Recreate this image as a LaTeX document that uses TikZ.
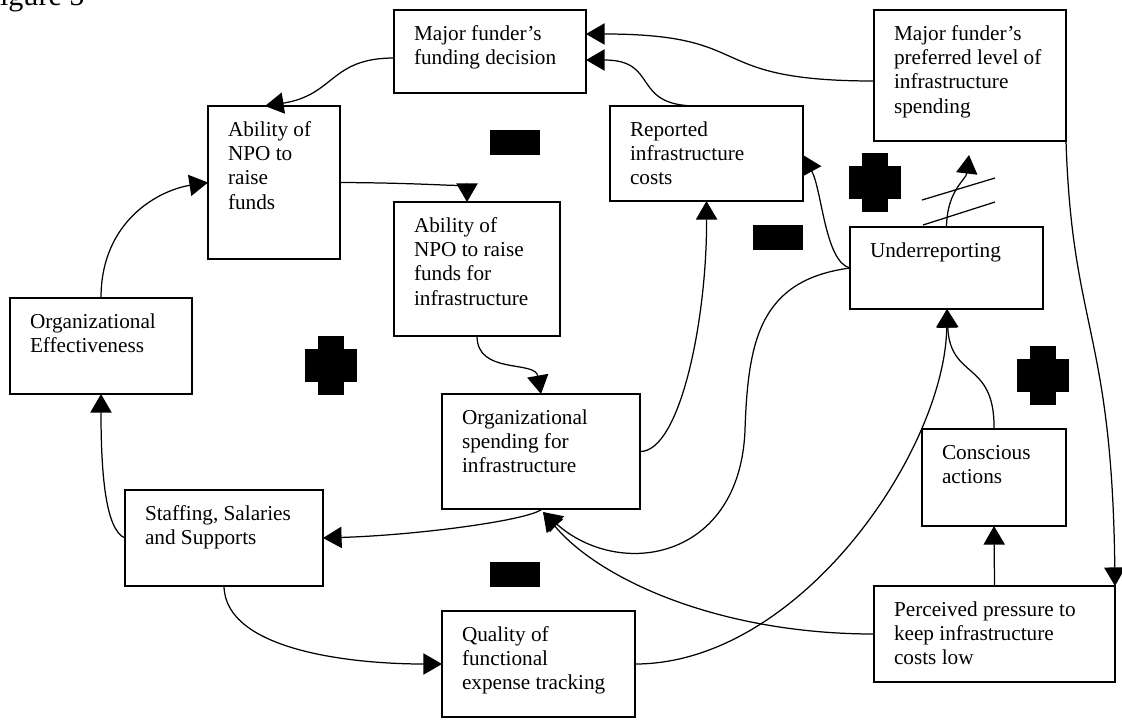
\documentclass[tikz,border=0pt]{standalone}
\usepackage{fontspec}
\setmainfont{Liberation Serif}
\usetikzlibrary{arrows.meta}
\newlength\px
\setlength\px{0.565pt}
\newcommand\boxtext[3]{\begin{minipage}[c][#2\px][t]{#1\px}\raggedright\setlength\leftskip{20\px}\vspace*{13\px}\strut#3\end{minipage}}
\tikzset{
  cbox/.style={draw, line width=0.8pt, anchor=north west, inner sep=0pt, outer sep=0pt},
  conn/.style={line width=0.7pt, -{Triangle[length=10.5pt,width=12pt]}},
  sign/.style={fill=black}
}

\begin{document}
\begin{tikzpicture}[x=0.565pt, y=-0.565pt, font=\fontsize{12}{13.8}\selectfont]
    \useasboundingbox (0,0) rectangle (1122,719);
    \node[anchor=base west, inner sep=0pt, font=\fontsize{17}{20}\selectfont] (fig) at (-17,5) {Figure 5};

    \node[cbox] (fund) at (394,10) {\boxtext{192}{83}{Major funder’s\\funding decision}};
    \node[cbox] (pref) at (874,10) {\boxtext{192}{131}{Major funder’s\\preferred level of\\infrastructure\\spending}};
    \node[cbox] (raise) at (208,106) {\boxtext{132}{153}{Ability of\\NPO to\\raise\\funds}};
    \node[cbox] (rep) at (610,106) {\boxtext{193}{95}{Reported\\infrastructure\\costs}};
    \node[cbox] (infra) at (394,202) {\boxtext{166}{134}{Ability of\\NPO to raise\\funds for\\infrastructure}};
    \node[cbox] (under) at (850,227) {\boxtext{193}{82}{Underreporting}};
    \node[cbox] (eff) at (10,298) {\boxtext{182}{96}{Organizational\\Effectiveness}};
    \node[cbox] (spend) at (442,394) {\boxtext{198}{115}{Organizational\\spending for\\infrastructure}};
    \node[cbox] (consc) at (922,429) {\boxtext{144}{97}{Conscious\\actions}};
    \node[cbox] (staff) at (125,490) {\boxtext{198}{96}{Staffing, Salaries\\and Supports}};
    \node[cbox] (qual) at (442,611) {\boxtext{193}{106}{Quality of\\functional\\expense tracking}};
    \node[cbox] (press) at (874,586) {\boxtext{241}{96}{Perceived pressure to\\keep infrastructure\\costs low}};

    % loop signs
    \foreach \x/\y in {875/182, 331/365, 1043/375} {
        \fill[sign] (\x-13,\y-29.5) rectangle (\x+13,\y+29.5);
        \fill[sign] (\x-26,\y-16.5) rectangle (\x+26,\y+16.5);
    }
    \foreach \x/\y in {515/142, 778/237, 515/574}
        \fill[sign] (\x-25,\y-12.5) rectangle (\x+25,\y+12.5);

    \draw[conn] ([yshift=-48\px]fund.north west) .. controls (330,58) and (335,95) .. ([xshift=57\px]raise.north west);
    \draw[conn] ([yshift=-71\px]pref.north west) .. controls (700,81) and (760,34) .. ([yshift=-24\px]fund.north east);
    \draw[conn] ([xshift=87\px]rep.north west) .. controls (630,106) and (660,60) .. ([yshift=-50\px]fund.north east);
    \draw[conn] (raise.east) .. controls (440,183) and (467,188) .. ([xshift=73\px]infra.north west);
    \draw[conn] ([xshift=83\px]infra.south west) .. controls (477,375) and (535,360) .. (spend.north);
    \draw[conn] (spend.east) .. controls (680,452) and (707,320) .. (rep.south);
    \draw[conn] (under.west) .. controls (825,262) and (822,190) .. ([yshift=-49\px]rep.north east);

    \coordinate (prefin) at (969,155);
    \draw[conn] (under.north) .. controls (947,190) and (966,180) .. (prefin);
    \draw[line width=0.7pt] (922,200) -- (995,178);
    \draw[line width=0.7pt] (923,225) -- (995,202);

    \draw[conn] (pref.south east) .. controls (1072,330) and (1112,330) .. (press.north east);
    \draw[conn] (consc.north) .. controls (995,360) and (950,380) .. ([xshift=97\px]under.south west);
    \draw[conn] (qual.east) .. controls (800,664) and (945,450) .. ([xshift=97\px]under.south west);
    \draw[conn] (press.north) -- (consc.south);
    \draw[conn] (press.west) .. controls (720,634) and (600,580) .. ([xshift=101\px,yshift=-3\px]spend.south west);
    \draw[conn] (under.west) .. controls (760,280) and (748,340) .. (745,430)
        .. controls (740,560) and (620,580) .. ([xshift=101\px,yshift=-3\px]spend.south west);

    \draw[conn] ([xshift=100\px]spend.south west) .. controls (530,520) and (420,535) .. (staff.east);
    \draw[conn] (staff.south) .. controls (225,650) and (350,664) .. (qual.west);
    \draw[conn] (staff.west) .. controls (105,530) and (101,470) .. (eff.south);
    \draw[conn] (eff.north) .. controls (101,220) and (160,190) .. (raise.west);
\end{tikzpicture}
\end{document}
